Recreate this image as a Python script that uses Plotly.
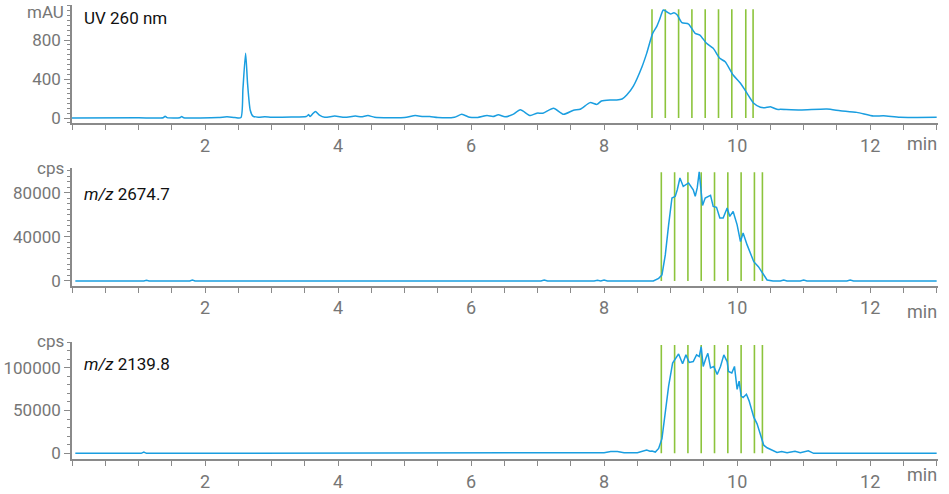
import plotly.graph_objects as go
from plotly.subplots import make_subplots

# ---------------- data ----------------
uv_time = [0.0, 1.0, 1.37, 1.40, 1.43, 1.62, 1.65, 1.68, 2.2, 2.33, 2.45, 2.54, 2.57, 2.61, 2.64,
           2.68, 2.72, 2.80, 2.90, 3.0, 3.3, 3.52, 3.56, 3.58, 3.62, 3.66, 3.72, 3.80, 3.95, 4.1,
           4.26, 4.35, 4.45, 4.55, 5.0, 5.16, 5.28, 5.38, 5.5, 5.75, 5.86, 5.98, 6.1, 6.24, 6.33,
           6.41, 6.51, 6.63, 6.74, 6.89, 6.99, 7.08, 7.24, 7.39, 7.54, 7.64, 7.79, 7.89, 7.96,
           8.09, 8.19, 8.27, 8.34, 8.44, 8.57, 8.64, 8.73, 8.79, 8.84, 8.89, 8.94, 9.00, 9.05,
           9.10, 9.17, 9.27, 9.37, 9.44, 9.54, 9.64, 9.74, 9.82, 9.94, 10.05, 10.15, 10.25, 10.35,
           10.42, 10.50, 10.60, 10.65, 10.95, 11.35, 11.55, 11.80, 12.05, 12.20, 12.45, 13.0]
uv_mau = [0, 2, 3, 18, 4, 3, 15, 4, 5, 12, 5, 5, 300, 665, 350,
          80, 20, 8, 12, 8, 10, 15, 35, 15, 45, 68, 30, 8, 20, 8,
          20, 12, 25, 8, 5, 25, 15, 15, 5, 8, 38, 8, 6, 25, 15,
          33, 12, 38, 85, 25, 50, 50, 100, 38, 80, 90, 158, 140, 175,
          185, 185, 195, 236, 328, 526, 663, 868, 937, 1022, 1108, 1090, 1067, 1080,
          1056, 977, 964, 868, 851, 766, 715, 612, 577, 441, 356, 253, 151, 110,
          106, 116, 89, 89, 82, 92, 75, 58, 20, 24, 7, 7]

ms1_time = [0.05, 1.08, 1.12, 1.16, 1.77, 1.81, 1.85, 5.25, 5.3, 5.35, 7.05, 7.1, 7.15, 7.85,
            7.9, 7.95, 8.0, 8.05, 8.4, 8.54, 8.74, 8.82, 8.87, 8.92, 8.97, 9.02, 9.07, 9.10, 9.14,
            9.19, 9.27, 9.34, 9.37, 9.40, 9.43, 9.45, 9.48, 9.52, 9.57, 9.60, 9.64, 9.69, 9.74,
            9.79, 9.85, 9.89, 9.94, 10.00, 10.05, 10.09, 10.15, 10.20, 10.25, 10.32, 10.40, 10.45,
            10.54, 10.65, 10.7, 10.75, 10.95, 11.0, 11.05, 11.35, 11.4, 11.45, 11.65, 11.7, 11.75, 13.0]
ms1_cps = [0, 0, 700, 0, 0, 800, 0, 0, 600, 0, 0, 900, 0, 0,
           600, 0, 800, 0, 400, 0, 0, 2400, 5500, 23600, 50900, 75200, 76700, 82700, 93300,
           85700, 88800, 82700, 76700, 84300, 98800, 87300, 68500, 75200, 76700, 77600, 67600, 66700, 57000,
           57000, 66100, 58500, 63000, 50900, 35700, 43400, 32700, 25200, 17500, 13000, 5500, 900,
           0, 0, 900, 0, 0, 800, 0, 0, 400, 0, 0, 900, 0, 0]

ms2_time = [0.05, 1.04, 1.08, 1.12, 8.0, 8.1, 8.2, 8.3, 8.5, 8.64, 8.69, 8.72, 8.77, 8.82, 8.87,
            8.92, 8.97, 9.03, 9.08, 9.12, 9.18, 9.23, 9.28, 9.34, 9.39, 9.43, 9.46, 9.49, 9.53,
            9.56, 9.60, 9.65, 9.70, 9.75, 9.80, 9.85, 9.87, 9.92, 9.96, 10.00, 10.03, 10.06, 10.09,
            10.14, 10.18, 10.25, 10.30, 10.35, 10.40, 10.45, 10.52, 10.60, 10.67, 10.75, 10.87,
            10.95, 11.07, 11.15, 13.0]
ms2_cps = [0, 0, 1500, 0, 800, 2000, 2000, 600, 800, 3800, 2500, 2700, 1500, 5700, 17200,
           51700, 78500, 105400, 111100, 116100, 104600, 115000, 106100, 107200, 115000, 113000, 124500, 101500, 111100,
           116900, 99700, 101500, 92000, 101500, 115000, 107200, 95700, 93900, 101500, 74700, 84300, 67000, 65100,
           69000, 61300, 42200, 34500, 21100, 9500, 6500, 3800, 1100, 2000, 800, 2500,
           600, 3000, 0, 0]

uv_fractions = [8.72, 8.92, 9.12, 9.32, 9.52, 9.72, 9.92, 10.13, 10.24]
ms_fractions = [8.86, 9.06, 9.26, 9.46, 9.66, 9.86, 10.06, 10.26, 10.38]
frac_tops = [1115, 98500, 126500]

panel_labels = ["UV 260 nm", "<i>m/z</i> 2674.7", "<i>m/z</i> 2139.8"]
unit_labels = ["mAU", "cps", "cps"]
x_ticks = [2, 4, 6, 8, 10, 12]

# ---------------- figure ----------------
LINE = "#1a9ee0"
GREEN = "#8cc43c"
GREY = "#8a8a8a"
TICKC = "#767676"
FONT = "Roboto"

fig = make_subplots(rows=3, cols=1, shared_xaxes=False)

series = [(uv_time, uv_mau), (ms1_time, ms1_cps), (ms2_time, ms2_cps)]
shapes_line = ["spline", "linear", "linear"]
for i, (t, v) in enumerate(series, start=1):
    fig.add_trace(go.Scatter(x=t, y=v, mode="lines",
                             line=dict(color=LINE, width=1.5, shape=shapes_line[i - 1], smoothing=0.6),
                             showlegend=False, hoverinfo="skip"), row=i, col=1)

frac_sets = [uv_fractions, ms_fractions, ms_fractions]
for i, (fr, top) in enumerate(zip(frac_sets, frac_tops), start=1):
    xref = "x" if i == 1 else f"x{i}"
    yref = "y" if i == 1 else f"y{i}"
    for f in fr:
        fig.add_shape(type="line", x0=f, x1=f, y0=0, y1=top, xref=xref, yref=yref,
                      line=dict(color=GREEN, width=1.6), layer="below")

domains = [[0.7504, 0.9899], [0.4211, 0.6593], [0.0702, 0.3083]]
yranges = [[-54, 1159], [-4530, 102100], [-7000, 130400]]
ydticks = [400, 40000, 50000]
yminor = [50, 5000, 10000]

for i in range(3):
    xa = "xaxis" if i == 0 else f"xaxis{i+1}"
    ya = "yaxis" if i == 0 else f"yaxis{i+1}"
    fig.layout[xa].update(domain=[0, 1], range=[0, 13.02], tickvals=x_ticks, ticks="outside", ticklen=5,
                          tickcolor=GREY, tickwidth=1, showline=True, linecolor=GREY, linewidth=1.5,
                          showgrid=False, zeroline=False, automargin=False,
                          tickfont=dict(family=FONT, size=18, color=TICKC),
                          minor=dict(dtick=0.5, tick0=0, ticks="outside", ticklen=5, tickcolor=GREY),
                          anchor="y" if i == 0 else f"y{i+1}")
    fig.layout[ya].update(domain=domains[i], range=yranges[i], dtick=ydticks[i], tick0=0,
                          tickformat="d", exponentformat="none",
                          ticks="outside", ticklen=6, tickcolor=GREY, tickwidth=1,
                          showline=True, linecolor=GREY, linewidth=1.5, showgrid=False,
                          zeroline=False, automargin=False,
                          tickfont=dict(family=FONT, size=17, color=TICKC),
                          minor=dict(dtick=yminor[i], tick0=0, ticks="outside", ticklen=3, tickcolor=GREY))

W, H = 949, 494
L, R = 72, 11
pw = W - L - R

def px(xp):
    return (xp - L) / pw

def py(yp):
    return 1 - yp / H

label_y = [18, 194, 364]
unit_y = [12, 168, 341]
min_y = [143, 311, 474]
for i in range(3):
    fig.add_annotation(text=panel_labels[i], x=px(82), y=py(label_y[i]), xref="paper", yref="paper",
                       xanchor="left", yanchor="middle", showarrow=False,
                       font=dict(family=FONT, size=17, color="#111111"))
    fig.add_annotation(text=unit_labels[i], x=px(66), y=py(unit_y[i]), xref="paper", yref="paper",
                       xanchor="right", yanchor="middle", showarrow=False,
                       font=dict(family=FONT, size=17, color=TICKC))
    fig.add_annotation(text="min", x=px(939), y=py(min_y[i]), xref="paper", yref="paper",
                       xanchor="right", yanchor="middle", showarrow=False,
                       font=dict(family=FONT, size=18, color=TICKC))

fig.update_layout(width=W, height=H, margin=dict(l=L, r=R, t=0, b=0),
                  paper_bgcolor="white", plot_bgcolor="white",
                  template="none")

fig.write_html("out.html", config={"displayModeBar": False},
               post_script="document.body.style.margin='0px';document.body.style.padding='0px';")
